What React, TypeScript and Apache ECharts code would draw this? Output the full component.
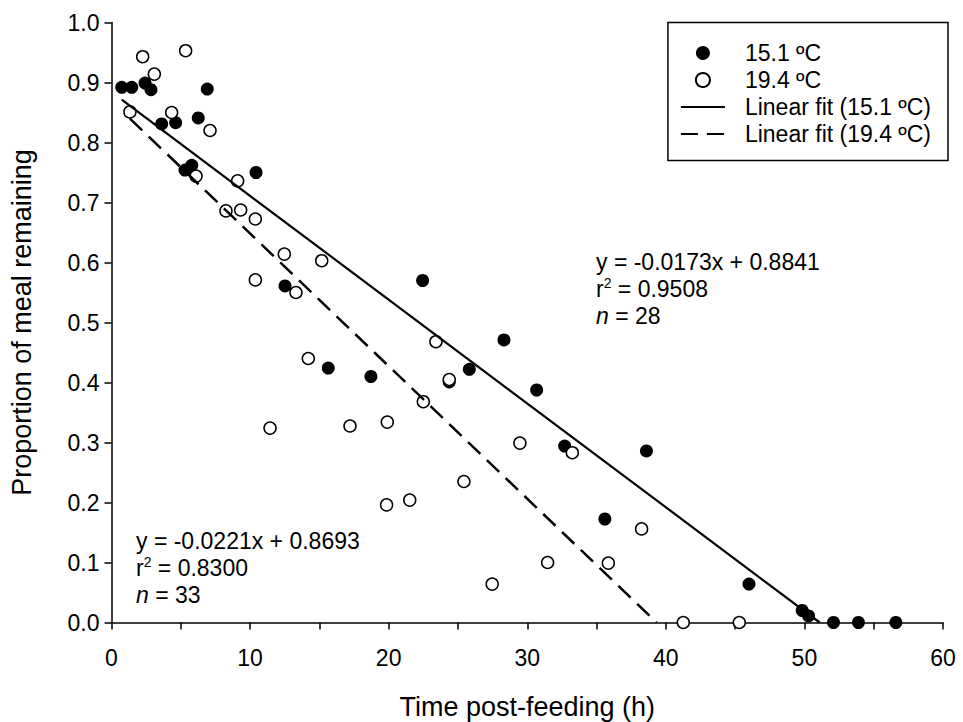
import React, { useEffect, useRef } from "react";
import * as echarts from "echarts";

// 15.1 ºC (filled circles): [time h, proportion]
const warmLowX = [0.74, 1.46, 2.42, 2.85, 6.91, 3.62, 4.63, 6.26, 5.3, 5.79, 10.43, 12.52, 22.45, 15.64, 18.72, 28.32, 25.82, 24.37, 30.68, 32.7, 38.6, 35.6, 46.0, 49.84, 50.3, 52.1, 53.9, 56.6];
const warmLowY = [0.892, 0.892, 0.899, 0.888, 0.889, 0.831, 0.833, 0.841, 0.754, 0.762, 0.75, 0.561, 0.57, 0.424, 0.41, 0.471, 0.422, 0.401, 0.3875, 0.294, 0.286, 0.1725, 0.064, 0.02, 0.011, 0.0, 0.0, 0.0];

// 19.4 ºC (open circles)
const warmHighX = [2.25, 5.35, 3.09, 1.33, 4.34, 7.11, 6.1, 9.1, 8.26, 9.32, 10.38, 12.47, 15.17, 10.38, 13.31, 23.41, 14.2, 24.37, 22.5, 11.44, 17.21, 19.9, 29.47, 25.43, 21.52, 33.25, 38.25, 35.85, 31.47, 27.47, 41.26, 45.3, 19.85];
const warmHighY = [0.943, 0.953, 0.914, 0.851, 0.85, 0.82, 0.744, 0.736, 0.686, 0.6875, 0.6725, 0.614, 0.603, 0.571, 0.55, 0.468, 0.44, 0.405, 0.368, 0.324, 0.3275, 0.334, 0.299, 0.235, 0.204, 0.283, 0.156, 0.099, 0.1, 0.064, 0.0, 0.0, 0.196];

// Linear fits: slope, intercept
const fitSlopes = [-0.0173, -0.0221];
const fitIntercepts = [0.8841, 0.8693];
const fitR2 = ["0.9508", "0.8300"];
const fitN = [28, 33];

const seriesNames = ["15.1 ºC", "19.4 ºC", "Linear fit (15.1 ºC)", "Linear fit (19.4 ºC)"];

const xTicks = [0, 10, 20, 30, 40, 50, 60];

const FONT = "Liberation Sans, Arial, sans-serif";

function fitLine(i: number, xs: number[]) {
  const x0 = Math.min(...xs);
  const x1 = -fitIntercepts[i] / fitSlopes[i];
  return [
    [x0, fitSlopes[i] * x0 + fitIntercepts[i]],
    [x1, 0],
  ];
}

function annot(x: number, y: number, i: number) {
  const lineH = 27;
  const fs = 23;
  const eq = `y = ${fitSlopes[i].toFixed(4)}x + ${fitIntercepts[i].toFixed(4)}`;
  const base = { fill: "#000", fontFamily: FONT, fontSize: fs, textVerticalAlign: "middle" };
  return [
    { type: "text", x, y, style: { ...base, text: eq } },
    {
      type: "text",
      x,
      y: y + lineH,
      style: {
        ...base,
        text: `{r|r}{s|2}{t| = ${fitR2[i]}}`,
        rich: {
          r: { fontSize: fs, fontFamily: FONT, fill: "#000" },
          s: { fontSize: 14, fontFamily: FONT, fill: "#000", padding: [0, 0, 12, 0] },
          t: { fontSize: fs, fontFamily: FONT, fill: "#000" },
        },
      },
    },
    {
      type: "text",
      x,
      y: y + 2 * lineH,
      style: {
        ...base,
        text: `{i|n}{t| = ${fitN[i]}}`,
        rich: {
          i: { fontSize: fs, fontFamily: FONT, fontStyle: "italic", fill: "#000" },
          t: { fontSize: fs, fontFamily: FONT, fill: "#000" },
        },
      },
    },
  ];
}

export default function App() {
  const ref = useRef<HTMLDivElement>(null);
  useEffect(() => {
    if (!ref.current) return;
    const chart = echarts.init(ref.current, null, { renderer: "svg" });
    const option: any = {
      animation: false,
      backgroundColor: "#fff",
      textStyle: { fontFamily: FONT, color: "#000" },
      grid: { left: 111.5, right: 20, top: 22.5, bottom: 99.5, outerBoundsMode: "none", containLabel: false },
      legend: {
        orient: "vertical",
        right: 15,
        top: 22.5,
        data: [
          { name: seriesNames[0] },
          { name: seriesNames[1] },
          { name: seriesNames[2], itemStyle: { opacity: 0 } },
          { name: seriesNames[3], itemStyle: { opacity: 0 } },
        ],
        backgroundColor: "#fff",
        borderColor: "#000",
        borderWidth: 1.5,
        borderRadius: 0,
        padding: [19, 17, 15, 12],
        itemWidth: 44,
        itemHeight: 14,
        itemGap: 4,
        textStyle: { fontFamily: FONT, fontSize: 23, color: "#000", padding: [0, 0, 0, 15] },
      },
      xAxis: {
        type: "value",
        min: 0,
        max: 60,
        interval: 5,
        name: "Time post-feeding (h)",
        nameLocation: "middle",
        nameGap: 71,
        nameTextStyle: { fontFamily: FONT, fontSize: 27, color: "#000" },
        axisLine: { show: true, onZero: false, lineStyle: { color: "#000", width: 1.5 } },
        axisTick: { show: true, inside: false, length: 7, lineStyle: { color: "#000", width: 1.5 } },
        axisLabel: {
          fontFamily: FONT,
          fontSize: 23,
          color: "#000",
          margin: 24,
          formatter: (v: number) => (xTicks.includes(v) ? String(v) : ""),
        },
        splitLine: { show: false },
      },
      yAxis: {
        type: "value",
        min: 0,
        max: 1,
        interval: 0.1,
        name: "Proportion of meal remaining",
        nameLocation: "middle",
        nameGap: 76,
        nameRotate: 90,
        nameTextStyle: { fontFamily: FONT, fontSize: 27, color: "#000" },
        axisLine: { show: true, lineStyle: { color: "#000", width: 1.5 } },
        axisTick: { show: true, inside: false, length: 7, lineStyle: { color: "#000", width: 1.5 } },
        axisLabel: {
          fontFamily: FONT,
          fontSize: 23,
          color: "#000",
          margin: 12,
          formatter: (v: number) => v.toFixed(1),
        },
        splitLine: { show: false },
      },
      series: [
        {
          name: seriesNames[0],
          type: "scatter",
          symbol: "circle",
          symbolSize: 13,
          itemStyle: { color: "#000", opacity: 1 },
          data: warmLowX.map((x, i) => [x, warmLowY[i]]),
          z: 2,
        },
        {
          name: seriesNames[1],
          type: "scatter",
          symbol: "circle",
          symbolSize: 12,
          itemStyle: { color: "#fff", borderColor: "#000", borderWidth: 1.5, opacity: 1 },
          data: warmHighX.map((x, i) => [x, warmHighY[i]]),
          z: 3,
        },
        {
          name: seriesNames[2],
          type: "line",
          symbol: "none",
          showSymbol: false,
          lineStyle: { color: "#000", width: 2.2, type: "solid" },
          itemStyle: { color: "#000" },
          data: fitLine(0, warmLowX),
          z: 4,
        },
        {
          name: seriesNames[3],
          type: "line",
          symbol: "none",
          showSymbol: false,
          lineStyle: { color: "#000", width: 2.5, type: [17, 9] },
          itemStyle: { color: "#000" },
          data: fitLine(1, warmHighX),
          z: 4,
        },
      ],
      graphic: [...annot(596, 262, 0), ...annot(136, 541, 1)],
    };
    chart.setOption(option);
    return () => chart.dispose();
  }, []);
  return (
    <div
      ref={ref}
      style={{ position: "fixed", left: 0, top: 0, width: 963, height: 722, background: "#fff" }}
    />
  );
}
